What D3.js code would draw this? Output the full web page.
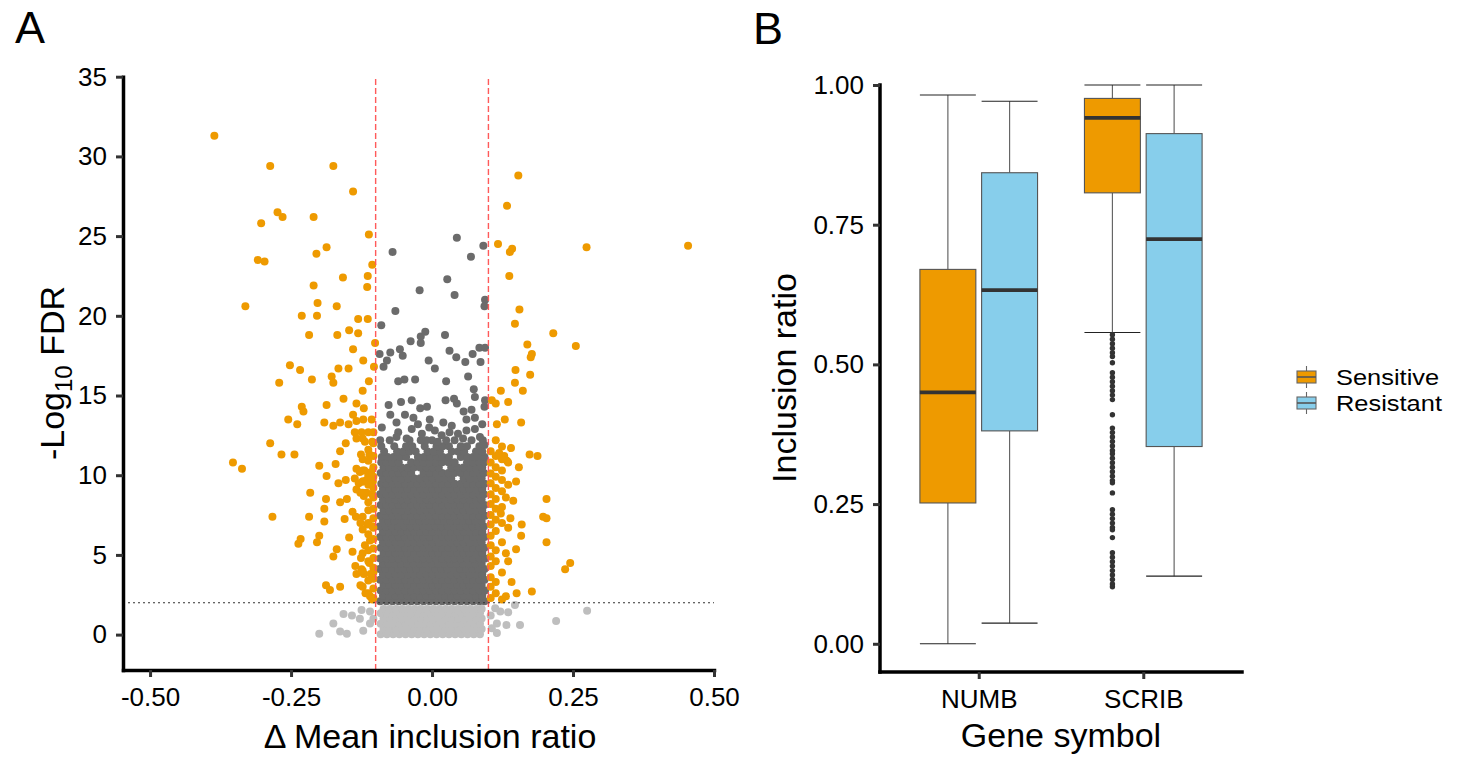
<!DOCTYPE html>
<html>
<head>
<meta charset="utf-8">
<script src="https://cdn.jsdelivr.net/npm/d3@7"></script>
<style>
  body { margin: 0; background: #fff; }
  text { font-family: "Liberation Sans", Arial, Helvetica, sans-serif; }
</style>
</head>
<body>
<svg id="fig" width="1457" height="757"></svg>
<script>
// ---------------- Panel A: volcano plot data ----------------
// Thresholds
const fdrCut = 2;          // -log10 FDR
const deltaCut = 0.1;      // |delta mean inclusion ratio|

// Axis ticks
const volXTicks = [-0.5, -0.25, 0, 0.25, 0.5];
const volXLabels = ["-0.50", "-0.25", "0.00", "0.25", "0.50"];
const volYTicks = [0, 5, 10, 15, 20, 25, 30, 35];

// Significant events (|delta| > 0.1 and FDR < 0.01): [delta, -log10 FDR]
const sigEvents = [
  [-0.386,31.3],[-0.287,29.4],[-0.175,29.4],[-0.140,27.8],[-0.274,26.5],[-0.265,26.2],[-0.210,26.2],
  [-0.303,25.8],[-0.112,25.1],[-0.187,24.3],[-0.205,23.9],[-0.309,23.5],[-0.297,23.4],[-0.106,23.2],
  [-0.158,22.4],[-0.114,22.5],[-0.210,21.9],[-0.115,21.8],[-0.331,20.6],[-0.203,20.8],[-0.169,20.6],
  [-0.231,20.0],[-0.204,20.0],[-0.131,19.8],[-0.114,19.8],[-0.147,19.1],[-0.218,18.8],[-0.168,18.8],
  [-0.131,18.9],[-0.140,17.9],[-0.101,18.3],[-0.122,17.2],[-0.252,16.9],[-0.234,16.6],[-0.271,15.8],
  [-0.213,16.0],[-0.178,16.2],[-0.175,15.8],[-0.166,16.7],[-0.148,16.7],[-0.103,16.8],[-0.112,15.9],
  [-0.123,15.3],[-0.157,14.8],[-0.187,14.4],[-0.134,14.5],[-0.231,14.3],[-0.228,14.0],[-0.121,14.2],
  [-0.255,13.5],[-0.239,13.2],[-0.140,13.8],[-0.191,13.3],[-0.175,13.1],[-0.163,13.3],[-0.148,13.2],
  [-0.134,13.4],[-0.122,13.5],[-0.107,13.5],[-0.137,12.7],[-0.125,12.7],[-0.113,12.7],[-0.104,12.7],
  [-0.134,12.3],[-0.119,12.1],[-0.106,12.1],[-0.287,12.0],[-0.153,12.0],[-0.267,11.3],[-0.244,11.3],
  [-0.163,11.5],[-0.126,11.3],[-0.111,11.3],[-0.353,10.8],[-0.337,10.4],[-0.200,10.6],[-0.171,10.7],
  [-0.134,10.4],[-0.128,10.2],[-0.120,10.3],[-0.108,10.2],[-0.187,9.95],[-0.153,9.7],[-0.166,9.5],
  [-0.137,9.8],[-0.130,9.5],[-0.123,9.6],[-0.116,9.7],[-0.105,9.6],[-0.216,8.9],[-0.188,8.5],
  [-0.163,8.3],[-0.151,8.5],[-0.134,9.1],[-0.127,8.9],[-0.121,8.7],[-0.116,8.9],[-0.106,8.8],
  [-0.283,7.4],[-0.218,7.4],[-0.191,7.9],[-0.191,7.1],[-0.155,7.25],[-0.141,7.7],[-0.135,7.4],
  [-0.127,7.0],[-0.115,6.9],[-0.106,6.8],[-0.233,6.0],[-0.237,5.7],[-0.204,5.8],[-0.200,6.2],
  [-0.169,5.35],[-0.175,4.9],[-0.147,6.1],[-0.141,5.2],[-0.126,4.8],[-0.119,5.6],[-0.110,5.9],
  [-0.134,3.8],[-0.121,3.8],[-0.109,3.8],[-0.188,3.1],[-0.181,2.8],[-0.163,3.0],[-0.127,3.1],
  [-0.118,2.6],[-0.110,2.4],[-0.106,2.2],[-0.136,4.3],[-0.125,4.1],[-0.111,4.5],[-0.104,3.9],
  [-0.104,2.3],[-0.104,2.9],[-0.104,3.5],[-0.104,4.2],[-0.104,4.8],[-0.104,5.4],[-0.104,6.0],
  [-0.104,6.7],[-0.104,7.3],[-0.104,7.9],[-0.104,8.6],[-0.104,9.2],[-0.104,9.9],[-0.104,10.5],
  [-0.104,11.2],[-0.104,12.0],[-0.113,2.6],[-0.113,3.4],[-0.113,4.6],[-0.113,5.3],[-0.113,6.3],
  [-0.113,7.0],[-0.113,7.8],[-0.113,8.3],[-0.113,9.4],[-0.113,10.0],[-0.113,10.9],[-0.113,11.6],
  [-0.123,3.0],[-0.123,4.0],[-0.123,5.1],[-0.123,6.6],[-0.123,7.4],[-0.123,8.9],[-0.123,9.6],
  [-0.123,10.3],[-0.123,11.0],[-0.123,12.3],
  [0.153,28.8],[0.133,26.9],[0.117,24.5],[0.142,24.2],[0.138,24.0],[0.274,24.3],[0.454,24.4],
  [0.137,22.5],[0.155,20.4],[0.147,19.5],[0.215,18.9],[0.255,18.1],[0.169,18.2],[0.177,17.6],
  [0.175,17.4],[0.148,16.6],[0.174,16.3],[0.147,15.8],[0.161,15.3],[0.122,15.3],[0.106,14.7],
  [0.113,14.5],[0.135,14.6],[0.129,13.5],[0.115,13.2],[0.158,13.3],[0.140,11.7],[0.128,11.2],
  [0.119,11.4],[0.173,11.3],[0.187,11.2],[0.133,10.9],[0.154,10.5],[0.149,9.6],[0.203,8.5],
  [0.144,8.4],[0.131,8.6],[0.122,7.6],[0.139,7.3],[0.197,7.4],[0.203,7.3],[0.159,6.9],
  [0.158,6.2],[0.203,5.8],[0.149,5.35],[0.131,5.1],[0.245,4.5],[0.236,4.1],[0.150,2.6],
  [0.177,2.7],[0.141,3.3],[0.131,2.4],
  [0.104,2.3],[0.104,3.0],[0.104,3.6],[0.104,4.3],[0.104,4.9],[0.104,5.6],[0.104,6.2],[0.104,6.9],
  [0.104,7.5],[0.104,8.2],[0.104,8.8],[0.104,9.5],[0.104,10.1],[0.104,10.8],[0.104,11.5],
  [0.113,2.6],[0.113,3.3],[0.113,4.6],[0.113,5.3],[0.113,6.5],[0.113,7.2],[0.113,7.9],[0.113,8.5],
  [0.113,9.2],[0.113,9.9],[0.113,10.5],[0.113,11.2],[0.113,12.2],
  [0.124,2.2],[0.124,3.9],[0.124,5.8],[0.124,7.0],[0.124,8.0],[0.124,9.0],[0.124,9.7],[0.124,10.3],
  [0.124,11.0],[0.124,11.8],[0.135,4.6],[0.135,6.7],[0.135,9.4],[0.135,10.8]
];

// Events with FDR < 0.01 but small change, sparse upper part: [delta, -log10 FDR]
const smallChangeSparse = [
  [-0.070,24.0],[-0.065,20.3],[-0.090,19.4],[0.044,24.9],[0.091,24.4],[0.069,23.7],[0.027,22.3],
  [-0.022,21.6],[0.040,21.3],[0.094,21.0],[0.093,20.6],[-0.012,19.0],[-0.020,18.7],[0.023,18.8],
  [-0.038,18.4],[-0.020,18.3],[-0.093,17.6],[-0.074,17.7],[-0.057,17.9],[-0.052,17.5],[-0.086,16.8],
  [-0.080,17.2],[0.031,17.8],[0.043,17.4],[0.059,17.1],[0.072,17.6],[0.084,18.0],[0.094,18.0],
  [-0.006,17.2],[0.005,16.7],[0.086,17.1],[-0.060,15.9],[-0.049,16.0],[-0.030,16.0],[0.025,15.9],
  [0.064,16.2],[0.074,15.4],[0.076,14.9],[0.024,14.7],[0.039,14.8],[0.044,14.5],[-0.077,14.4],
  [-0.055,14.6],[-0.036,14.7],[-0.021,14.2],[-0.009,14.3],[0.093,14.3],[0.094,14.7],[-0.048,13.8],
  [-0.033,13.6],[-0.074,13.8],[-0.004,13.5],[0.056,14.0],[0.070,14.1],[0.061,13.5],[0.076,13.6],
  [-0.063,13.3],[-0.060,12.7],[-0.063,12.4],[-0.089,13.0],[-0.092,12.2],[-0.036,12.9],[-0.018,12.6],
  [0.005,12.8],[0.017,12.5],[0.031,12.7],[0.046,12.6],[0.061,12.8],[0.076,12.9],[-0.045,12.3],
  [-0.010,12.2],[0.010,12.1],[0.055,12.3],[0.085,12.4],[0.093,11.9],[-0.025,13.2],[0.020,13.3],
  [0.035,13.1],[0.089,13.2],[-0.005,13.0]
];

// Dense band of small-change events, one row per -log10 FDR level: "fdr|delta x 1000 ..."
const smallChangeRows = [
  "2.10|-92 -81 -70 -59 -48 -37 -26 -15 -4 7 18 29 40 51 62 73 84 93",
  "2.44|-87 -76 -65 -54 -43 -32 -21 -10 1 12 23 34 45 56 67 78 89",
  "2.77|-91 -81 -70 -59 -48 -37 -26 -15 -4 7 18 29 40 51 62 73 84 94",
  "3.11|-86 -76 -65 -54 -43 -32 -21 -10 1 12 23 34 45 56 67 78 88",
  "3.44|-92 -81 -70 -59 -48 -37 -26 -15 -4 7 18 29 40 51 62 73 84 93",
  "3.78|-87 -76 -65 -54 -43 -32 -21 -10 1 12 23 34 45 56 67 78 89",
  "4.11|-93 -82 -71 -60 -49 -38 -27 -16 -5 6 17 28 39 50 61 72 83 93",
  "4.45|-87 -77 -66 -55 -44 -33 -22 -11 0 11 22 33 44 55 66 77 88",
  "4.78|-92 -81 -70 -59 -48 -37 -26 -15 -4 7 18 29 40 51 62 73 84 94",
  "5.12|-86 -76 -65 -54 -43 -32 -21 -10 1 12 23 34 45 56 67 78 89",
  "5.45|-91 -81 -70 -59 -48 -37 -26 -15 -4 7 18 29 40 51 62 73 84 93",
  "5.79|-87 -76 -65 -54 -43 -32 -21 -10 1 12 23 34 45 56 67 78 88",
  "6.12|-92 -81 -70 -59 -48 -37 -26 -15 -4 7 18 29 40 51 62 73 84 93",
  "6.46|-87 -76 -65 -54 -43 -32 -21 -10 1 12 23 34 45 56 67 78 89",
  "6.79|-93 -82 -71 -60 -49 -38 -27 -16 -5 6 17 28 39 50 61 72 83 92",
  "7.13|-87 -77 -66 -55 -44 -33 -22 -11 0 11 22 33 44 55 66 77 88",
  "7.46|-92 -81 -70 -59 -48 -37 -26 -15 -4 7 18 29 40 51 62 73 84 94",
  "7.80|-86 -76 -65 -54 -43 -32 -21 -10 1 12 23 34 45 56 67 78 89",
  "8.13|-91 -81 -70 -59 -48 -37 -26 -15 -4 7 18 29 40 51 62 73 84 93",
  "8.47|-87 -76 -65 -54 -43 -32 -21 -10 1 12 23 34 45 56 67 78 88",
  "8.80|-92 -81 -70 -59 -48 -37 -26 -15 -4 7 18 29 40 51 62 73 84 92",
  "9.14|-87 -76 -65 -54 -43 -32 -21 -10 1 12 23 34 45 56 67 78 89",
  "9.47|-90 -81 -70 -59 -48 -37 -26 -15 -4 7 18 29 40 51 62 73 84 93",
  "9.81|-87 -76 -65 -54 -43 -32 -21 -10 1 12 23 34 56 67 78 88",
  "10.14|-91 -81 -70 -59 -48 -37 -15 -4 7 18 29 40 51 62 73 84 92",
  "10.48|-86 -76 -65 -54 -43 -32 -21 -10 1 12 34 45 56 67 78 89",
  "10.81|-90 -81 -70 -59 -37 -26 -15 -4 7 18 29 40 62 73 84 93",
  "11.14|-89 -79 -68 -57 -46 -25 -14 -3 8 19 30 51 62 73 84 93",
  "11.48|-85 -62 -51 -40 -29 -8 3 14 35 46 57 78 89",
  "11.82|-90 -67 -46 -35 -13 8 19 30 51 62 84",
  "12.20|-75 -40 -20 0 25 40 70 90"
];

// Non-significant events (FDR >= 0.01): dense band rows and scattered points
const nonSigRows = [
  "0.02|-91 -80 -69 -58 -47 -36 -25 -14 -3 8 19 30 41 52 63 74 85",
  "0.35|-86 -75 -64 -53 -42 -31 -20 -9 2 13 24 35 46 57 68 79 88",
  "0.68|-91 -80 -69 -58 -47 -36 -25 -14 -3 8 19 30 41 52 63 74 85",
  "1.01|-86 -75 -64 -53 -42 -31 -20 -9 2 13 24 35 46 57 68 79 88",
  "1.34|-91 -80 -69 -58 -47 -36 -25 -14 -3 8 19 30 41 52 63 74 85",
  "1.60|-86 -75 -64 -53 -42 -31 -20 -9 2 13 24 35 46 57 68 79 88"
];
const nonSigSparse = [
  [-0.157,1.3],[-0.142,1.2],[-0.128,1.0],[-0.125,1.55],[-0.110,1.45],[-0.175,0.7],[-0.163,0.2],
  [-0.151,0.05],[-0.200,0.05],[-0.122,0.25],[-0.110,0.7],[-0.104,1.0],[0.112,1.65],[0.121,1.45],
  [0.135,1.4],[0.147,1.85],[0.115,0.7],[0.132,0.6],[0.156,0.6],[0.115,0.1],[0.220,0.85],
  [0.275,1.5],[0.104,1.2],[0.106,0.4]
];

// ---------------- Panel B: box plot data ----------------
const genes = ["NUMB", "SCRIB"];
const groups = ["Sensitive", "Resistant"];
const groupColors = ["#EE9A00", "#87CEEB"];
const boxTicks = [0, 0.25, 0.5, 0.75, 1];
// [lower whisker, Q1, median, Q3, upper whisker] per gene, per group
const numbStats = [[0.000, 0.252, 0.450, 0.670, 0.982], [0.037, 0.381, 0.633, 0.843, 0.971]];
const scribStats = [[0.557, 0.807, 0.941, 0.976, 1.000], [0.121, 0.353, 0.724, 0.913, 1.000]];
// SCRIB / Sensitive outliers below the lower whisker
const scribSensOutliers = [
  0.553,0.545,0.537,0.529,0.521,0.514,0.503,0.485,0.477,0.469,0.461,0.453,0.445,0.437,0.410,
  0.386,0.378,0.370,0.362,0.354,0.346,0.340,0.332,0.324,0.316,0.308,0.300,0.292,0.288,0.270,
  0.240,0.232,0.224,0.216,0.208,0.204,0.190,0.163,0.155,0.147,0.139,0.131,0.123,0.115,0.107,0.102
];

// ---------------- helpers ----------------
const parseRows = rows => rows.flatMap(r => {
  const [fdr, xs] = r.split("|");
  return xs.trim().split(/\s+/).map(v => [+v / 1000, +fdr]);
});

const svg = d3.select("#fig");
const FONT_TICK = 26, FONT_TITLE = 34;
const ORANGE = "#EE9A00", DARK = "#6B6B6B", LIGHT = "#BEBEBE";

function styleAxis(g) {
  g.select(".domain").attr("stroke", "#000").attr("stroke-width", 3.5).attr("stroke-linecap", "square");
  g.selectAll(".tick line").attr("stroke", "#333").attr("stroke-width", 3);
  g.selectAll(".tick text").attr("fill", "#000").attr("font-size", FONT_TICK)
    .attr("font-family", "'Liberation Sans', Arial, sans-serif");
}

// ================= Panel A =================
const xA = d3.scaleLinear().domain([-0.548, 0.5]).range([123, 714]);
const yA = d3.scaleLinear().domain([-2.22, 35]).range([670, 76.7]);
const R = 4.0;

const pts = svg.append("g");
const drawSet = (data, color) => pts.append("g").selectAll("circle").data(data).join("circle")
  .attr("cx", d => xA(d[0])).attr("cy", d => yA(d[1])).attr("r", R).attr("fill", color);

drawSet(parseRows(nonSigRows).concat(nonSigSparse), LIGHT);
drawSet(parseRows(smallChangeRows).concat(smallChangeSparse), DARK);
drawSet(sigEvents, ORANGE);

// threshold lines
svg.append("g").selectAll("line").data([-deltaCut, deltaCut]).join("line")
  .attr("x1", d => xA(d)).attr("x2", d => xA(d))
  .attr("y1", yA.range()[0]).attr("y2", yA.range()[1])
  .attr("stroke", "#FF5A5A").attr("stroke-width", 1.4).attr("stroke-dasharray", "6,3");
svg.append("line")
  .attr("x1", xA.range()[0]).attr("x2", xA.range()[1])
  .attr("y1", yA(fdrCut)).attr("y2", yA(fdrCut))
  .attr("stroke", "#333").attr("stroke-width", 1.2).attr("stroke-dasharray", "2,3");

svg.append("g").attr("transform", `translate(0,${yA.range()[0]})`)
  .call(d3.axisBottom(xA).tickValues(volXTicks).tickFormat((d, i) => volXLabels[i])
    .tickSize(7).tickSizeOuter(0).tickPadding(11))
  .call(styleAxis);
svg.append("g").attr("transform", `translate(${xA.range()[0]},0)`)
  .call(d3.axisLeft(yA).tickValues(volYTicks).tickFormat(d3.format("d"))
    .tickSize(7).tickSizeOuter(0).tickPadding(9))
  .call(styleAxis);

svg.append("text").attr("x", 430).attr("y", 748).attr("text-anchor", "middle")
  .attr("font-size", FONT_TITLE).text("\u0394 Mean inclusion ratio");
const yTitleA = svg.append("text").attr("transform", "translate(64,373) rotate(-90)")
  .attr("text-anchor", "middle").attr("font-size", FONT_TITLE);
yTitleA.append("tspan").text("-Log");
yTitleA.append("tspan").attr("font-size", 24).attr("dy", 8).text("10");
yTitleA.append("tspan").attr("dy", -8).text(" FDR");

svg.append("text").attr("x", 15).attr("y", 43).attr("font-size", 45).text("A");

// ================= Panel B =================
const xB = d3.scalePoint().domain(genes).range([880, 1242]).padding(0.6);
const yB = d3.scaleLinear().domain([-0.0505, 1.0]).range([672, 85]);
const step = xB.step();
const dodge = d3.scaleBand().domain(groups).range([-0.375 * step, 0.375 * step]);
const boxW = 0.34 * step;
const statsByGene = { NUMB: numbStats, SCRIB: scribStats };

const boxes = genes.flatMap(g => groups.map((grp, i) => ({
  gene: g, group: grp, color: groupColors[i], s: statsByGene[g][i],
  cx: xB(g) + dodge(grp) + dodge.bandwidth() / 2
})));

const bg = svg.append("g");
boxes.forEach(b => {
  const [lo, q1, med, q3, hi] = b.s;
  const g = bg.append("g");
  // whisker stems
  g.append("line").attr("x1", b.cx).attr("x2", b.cx).attr("y1", yB(hi)).attr("y2", yB(q3))
    .attr("stroke", "#666").attr("stroke-width", 1.2);
  g.append("line").attr("x1", b.cx).attr("x2", b.cx).attr("y1", yB(q1)).attr("y2", yB(lo))
    .attr("stroke", "#666").attr("stroke-width", 1.2);
  // whisker caps
  [lo, hi].forEach(v => g.append("line")
    .attr("x1", b.cx - boxW / 2).attr("x2", b.cx + boxW / 2).attr("y1", yB(v)).attr("y2", yB(v))
    .attr("stroke", "#222").attr("stroke-width", 1.1));
  g.append("rect").attr("x", b.cx - boxW / 2).attr("width", boxW)
    .attr("y", yB(q3)).attr("height", yB(q1) - yB(q3))
    .attr("fill", b.color).attr("stroke", "#555").attr("stroke-width", 1.1);
  g.append("line").attr("x1", b.cx - boxW / 2).attr("x2", b.cx + boxW / 2)
    .attr("y1", yB(med)).attr("y2", yB(med)).attr("stroke", "#333").attr("stroke-width", 3.8);
});
const scribSens = boxes.find(b => b.gene === "SCRIB" && b.group === "Sensitive");
bg.append("g").selectAll("circle").data(scribSensOutliers).join("circle")
  .attr("cx", scribSens.cx).attr("cy", d => yB(d)).attr("r", 2.7).attr("fill", "#333");

svg.append("g").attr("transform", `translate(0,${yB.range()[0]})`)
  .call(d3.axisBottom(xB).tickSize(7).tickSizeOuter(0).tickPadding(11))
  .call(g => g.select(".domain").attr("d", `M880,0H1242`))
  .call(styleAxis);
svg.append("g").attr("transform", "translate(880,0)")
  .call(d3.axisLeft(yB).tickValues(boxTicks).tickFormat(d3.format(".2f"))
    .tickSize(7).tickSizeOuter(0).tickPadding(9))
  .call(g => g.select(".domain").attr("d", `M0,${yB.range()[0]}V${yB.range()[1]}`))
  .call(styleAxis);

svg.append("text").attr("x", 1061).attr("y", 747).attr("text-anchor", "middle")
  .attr("font-size", FONT_TITLE).text("Gene symbol");
svg.append("text").attr("transform", "translate(796,378) rotate(-90)")
  .attr("text-anchor", "middle").attr("font-size", FONT_TITLE).text("Inclusion ratio");
svg.append("text").attr("x", 753).attr("y", 44).attr("font-size", 45).text("B");

// legend
const leg = svg.append("g").attr("transform", "translate(1297,377)");
groups.forEach((grp, i) => {
  const k = leg.append("g").attr("transform", `translate(0,${i * 26})`);
  k.append("line").attr("x1", 9.5).attr("x2", 9.5).attr("y1", -11).attr("y2", 11)
    .attr("stroke", "#666").attr("stroke-width", 1.1);
  k.append("rect").attr("x", 0).attr("y", -6).attr("width", 19).attr("height", 12)
    .attr("fill", groupColors[i]).attr("stroke", "#666").attr("stroke-width", 1.1);
  k.append("line").attr("x1", 0).attr("x2", 19).attr("y1", 0).attr("y2", 0)
    .attr("stroke", "#555").attr("stroke-width", 1.6);
  k.append("text").attr("transform", "translate(39,0) scale(1.13,1)").attr("dy", "0.35em")
    .attr("font-size", 22.5).text(grp);
});
</script>
</body>
</html>
